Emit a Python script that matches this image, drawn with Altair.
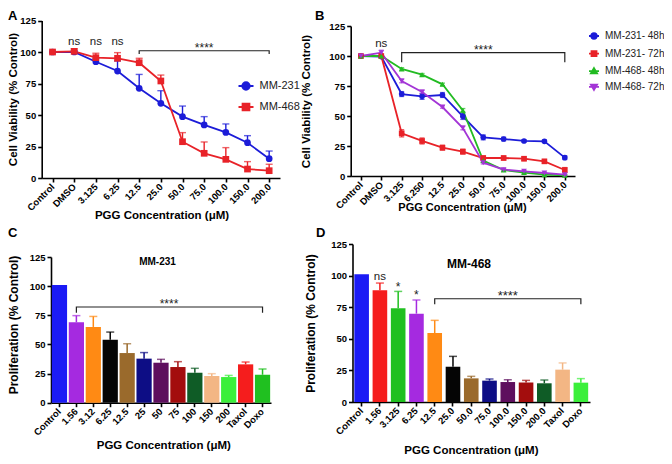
import altair as alt
import pandas as pd

FONT = "Liberation Sans"
W, H = 656, 448
Y_TICKS = [0, 25, 50, 75, 100, 125]
X_TITLE = "PGG Concentration (μM)"

# ---------------- Panel A ----------------
a_cats = ["Control", "DMSO", "3.125", "6.25", "12.5", "25.0", "50.0", "75.0", "100.0", "150.0", "200.0"]
a_series = ["MM-231", "MM-468"]
a_mm231 = [100, 100, 92.3, 84.9, 71.2, 59.3, 48.7, 42.1, 36.2, 28.0, 15.3]
a_mm231_err = [0, 1, 2.5, 8, 11, 10, 8.4, 6.6, 6.7, 5.6, 6.1]
a_mm468 = [100, 100.5, 95.5, 95, 91.5, 77, 28.8, 19.6, 14.8, 7.1, 5.8]
a_mm468_err = [0, 2, 3.5, 4.5, 3.5, 4.7, 7.2, 9, 9.3, 5.9, 5.1]
a_colors = ["#1c1cd8", "#e82228"]
a_ns_cats = ["DMSO", "3.125", "6.25"]
a_ns_y = [105.6, 105.6, 105.6]
a_br_x = ["12.5", "12.5", "200.0", "200.0"]
a_br_y = [98.4, 101, 101, 98.4]
a_star = ("75.0", 101)

# ---------------- Panel B ----------------
b_cats = ["Control", "DMSO", "3.125", "6.250", "12.5", "25.0", "50.0", "75.0", "100.0", "150.0", "200.0"]
b_series = ["MM-231- 48h", "MM-231- 72h", "MM-468- 48h", "MM-468- 72h"]
b_231_48 = [100, 99.5, 68.3, 66.4, 67.5, 49.7, 32.2, 30.8, 29.2, 28.9, 15.3]
b_231_48_err = [0, 0, 2, 2.5, 2, 2.5, 2, 1.5, 1, 1, 1.5]
b_231_72 = [100, 100, 35.6, 29.2, 23.6, 20.3, 15, 15, 14.4, 12.2, 5]
b_231_72_err = [0, 0, 3, 2.5, 2, 2, 1.5, 1.5, 1.5, 1.5, 2]
b_468_48 = [100, 100, 89.2, 84.4, 76.4, 54.7, 12.8, 5, 2.8, 1.1, 0.6]
b_468_48_err = [0, 1, 1, 1, 1, 1.5, 1.5, 1, 1, 0.5, 0.5]
b_468_72 = [100, 102.8, 79.2, 70, 57.5, 40, 11.1, 5.3, 3.9, 2.5, 1.1]
b_468_72_err = [0, 2, 1.5, 1.5, 1, 1.5, 1, 1, 0.5, 0.5, 0.5]
b_colors = ["#1c1cd8", "#e82228", "#22bb22", "#a335d6"]
b_ns_cats = ["DMSO"]
b_ns_y = [107.8]
b_br_x = ["3.125", "3.125", "200.0", "200.0"]
b_br_y = [94.8, 102.8, 102.8, 94.8]
b_star = ("50.0", 102.8)

# ---------------- Panel C ----------------
c_cats = ["Control", "1.56", "3.12", "6.25", "12.5", "25", "50", "75", "100", "150", "200", "Taxol", "Doxo"]
c_vals = [101, 69, 65, 54, 42.6, 37.8, 34.3, 30.6, 25.7, 22.9, 22, 32.9, 24]
c_err = [0, 5.7, 9, 6.6, 8, 5.2, 2.9, 4.6, 3.8, 2, 1.4, 2, 4.9]
c_colors = ["#1b1bf5", "#a52ae0", "#ff8a14", "#050505", "#9a6a2c", "#0d0d85", "#5e0f5e",
            "#a30d0d", "#0f5c26", "#f3b684", "#3bef3b", "#f51d1d", "#20c020"]
c_br_x = ["1.56", "1.56", "Doxo", "Doxo"]
c_br_y = [77.2, 82.1, 82.1, 77.2]
c_star = ("50", 82.1)

# ---------------- Panel D ----------------
d_cats = ["Control", "1.56", "3.125", "6.25", "12.5", "25.0", "50.0", "75.0", "100.0", "150.0", "200.0", "Taxol", "Doxo"]
d_vals = [101, 88.4, 74.1, 69.9, 54.6, 27.9, 18.7, 16.9, 15.8, 15.5, 14.8, 25.6, 15.3]
d_err = [0, 5.7, 13.4, 10.8, 10, 8.2, 1.6, 1.3, 1.8, 1.6, 2.6, 5.3, 3.2]
d_colors = ["#1b1bf5", "#f51d1d", "#20c020", "#a52ae0", "#ff8a14", "#050505", "#9a6a2c",
            "#0d0d85", "#5e0f5e", "#a30d0d", "#0f5c26", "#f3b684", "#3bef3b"]
d_ns_cats = ["1.56"]
d_ns_y = [96.5]
d_sig_cats = ["3.125", "6.25"]
d_sig_y = [87.8, 81.2]
d_br_x = ["12.5", "12.5", "Doxo", "Doxo"]
d_br_y = [77.3, 81.7, 81.7, 77.3]
d_star = ("100.0", 81.7)


def ax_common():
    return dict(labelFont=FONT, labelFontWeight="bold", labelColor="black",
                titleFont=FONT, titleFontWeight="bold", titleColor="black",
                domainColor="black", tickColor="black", domainWidth=1.6, tickWidth=1.6,
                tickSize=4, grid=False, labelOverlap=False)


def y_axis(off, title, tx, ty, tsize):
    return alt.Axis(orient="left", offset=off, values=Y_TICKS, title=title, titleX=tx, titleY=ty,
                    titleAngle=270, titleAlign="center", titleBaseline="middle", titleFontSize=tsize,
                    labelFontSize=9.5, labelPadding=2, **ax_common())


def x_axis(off, tx, ty, tsize):
    return alt.Axis(orient="bottom", offset=off, title=X_TITLE, titleX=tx, titleY=ty,
                    titleAlign="center", titleBaseline="alphabetic", titleFontSize=tsize,
                    labelAngle=315, labelAlign="right", labelBaseline="middle",
                    labelFontSize=9.5, labelPadding=3, **ax_common())


def annot_layers(xs, ys, br_x, br_y, star, star_dx, star_size, texts):
    out = []
    bdf = pd.DataFrame({"cat": br_x, "y": br_y, "k": list(range(len(br_x)))})
    out.append(alt.Chart(bdf).mark_line(color="#222", strokeWidth=1.2).encode(
        x=alt.X("cat:N", scale=xs, axis=None), y=alt.Y("y:Q", scale=ys, axis=None), order="k:Q"))
    sdf = pd.DataFrame({"cat": [star[0]], "y": [star[1]], "t": ["****"]})
    out.append(alt.Chart(sdf).mark_text(font=FONT, fontSize=star_size, color="#222", baseline="alphabetic",
                                        dx=star_dx, dy=1).encode(
        x=alt.X("cat:N", scale=xs, axis=None), y=alt.Y("y:Q", scale=ys, axis=None), text="t:N"))
    for cats, yv, txt, size in texts:
        tdf = pd.DataFrame({"cat": cats, "y": yv, "t": [txt] * len(cats)})
        out.append(alt.Chart(tdf).mark_text(font=FONT, fontSize=size, color="#222", baseline="alphabetic").encode(
            x=alt.X("cat:N", scale=xs, axis=None), y=alt.Y("y:Q", scale=ys, axis=None), text="t:N"))
    return out


def line_panel(cats, series, means, errs, colors, shapes, leg_paths, xr, yr, mk_size, sym_size,
               leg, xax, yax, two_sided, cap, annots):
    rows = []
    for s, mv, ev in zip(series, means, errs):
        for i, (c, m, e) in enumerate(zip(cats, mv, ev)):
            rows.append({"cat": c, "i": i, "series": s, "v": m, "e": e, "hi": m + e,
                         "lo": (m - e) if two_sided else m})
    df = pd.DataFrame(rows)
    xs = alt.Scale(type="point", domain=cats, range=xr, padding=0.5)
    ys = alt.Scale(domain=[0, 125], range=yr, nice=False, zero=True)
    X = alt.X("cat:N", scale=xs, axis=None)
    col = alt.Color("series:N", scale=alt.Scale(domain=series, range=colors), legend=None)
    base = alt.Chart(df)
    eb = base.transform_filter("datum.e > 0")
    layers = [
        eb.mark_rule(strokeWidth=1.4).encode(x=X, y=alt.Y("lo:Q", scale=ys, axis=None), y2="hi:Q", color=col),
        eb.mark_tick(thickness=1.4, size=cap).encode(x=X, y=alt.Y("hi:Q", scale=ys, axis=None), color=col),
    ]
    if two_sided:
        layers.append(eb.mark_tick(thickness=1.4, size=cap).encode(x=X, y=alt.Y("lo:Q", scale=ys, axis=None), color=col))
    layers.append(base.mark_line(strokeWidth=1.8).encode(
        x=alt.X("cat:N", scale=xs, axis=xax), y=alt.Y("v:Q", scale=ys, axis=yax), color=col, order="i:Q"))
    for s, sh in zip(series, shapes):
        layers.append(base.transform_filter(alt.datum.series == s).mark_point(
            shape=sh, filled=True, opacity=1, size=mk_size).encode(
            x=X, y=alt.Y("v:Q", scale=ys, axis=None), color=col))
    fs = alt.Scale(domain=series, range=colors)
    layers.append(base.transform_filter("false").mark_point(filled=True, opacity=1, size=sym_size, strokeWidth=1.8).encode(
        x=X, y=alt.Y("v:Q", scale=ys, axis=None),
        fill=alt.Fill("series:N", scale=fs, legend=leg),
        stroke=alt.Stroke("series:N", scale=fs, legend=leg),
        shape=alt.Shape("series:N", scale=alt.Scale(domain=series, range=leg_paths), legend=leg)))
    layers += annot_layers(xs, ys, *annots)
    return layers


def bar_panel(cats, vals, errs, colors, xr, yr, pi, po, xax, yax, cap, annots):
    df = pd.DataFrame({"cat": cats, "v": vals, "e": errs, "hi": [v + e for v, e in zip(vals, errs)]})
    xs = alt.Scale(type="band", domain=cats, range=xr, paddingInner=pi, paddingOuter=po)
    ys = alt.Scale(domain=[0, 125], range=yr, nice=False, zero=True)
    X = alt.X("cat:N", scale=xs, axis=None)
    col = alt.Color("cat:N", scale=alt.Scale(domain=cats, range=colors), legend=None)
    base = alt.Chart(df)
    eb = base.transform_filter("datum.e > 0")
    layers = [
        base.mark_bar().encode(x=alt.X("cat:N", scale=xs, axis=xax), y=alt.Y("v:Q", scale=ys, axis=yax), color=col),
        eb.mark_rule(strokeWidth=1.5).encode(x=X, y=alt.Y("v:Q", scale=ys, axis=None), y2="hi:Q", color=col),
        eb.mark_tick(thickness=1.5, size=cap).encode(x=X, y=alt.Y("hi:Q", scale=ys, axis=None), color=col),
    ]
    layers += annot_layers(xs, ys, *annots)
    return layers


def legend(x, y, size, fsize, rowpad, loff):
    return alt.Legend(orient="none", legendX=x, legendY=y, title=None, labelFont=FONT, labelFontSize=fsize,
                      labelColor="#222", symbolSize=size, symbolStrokeWidth=1.8, rowPadding=rowpad,
                      labelOffset=loff, padding=0, offset=0)


LINE = "M-1,0L1,0"
a_paths = [LINE + "M0.5,0A0.5,0.5,0,1,1,-0.5,0A0.5,0.5,0,1,1,0.5,0Z",
           LINE + "M-0.46,-0.46L0.46,-0.46L0.46,0.46L-0.46,0.46Z"]
b_paths = [LINE + "M0.55,0A0.55,0.55,0,1,1,-0.55,0A0.55,0.55,0,1,1,0.55,0Z",
           LINE + "M-0.5,-0.5L0.5,-0.5L0.5,0.5L-0.5,0.5Z",
           LINE + "M0,-0.62L0.62,0.45L-0.62,0.45Z",
           LINE + "M0,0.62L0.62,-0.45L-0.62,-0.45Z"]

panelA = line_panel(
    a_cats, a_series, [a_mm231, a_mm468], [a_mm231_err, a_mm468_err], a_colors, ["circle", "square"], a_paths,
    [33.7, 272], [170, 12.5], 45, 225, legend(229.5, 69.5, 225, 11, 5, 5),
    x_axis(-278, 153.5, 40, 11.5), y_axis(-33.7, "Cell Viability (% Control)", -28.7, 91, 11.5),
    False, 7,
    (a_br_x, a_br_y, a_star, 0, 12, [(a_ns_cats, a_ns_y, "ns", 11.5)]))

panelB = line_panel(
    b_cats, b_series, [b_231_48, b_231_72, b_468_48, b_468_72],
    [b_231_48_err, b_231_72_err, b_468_48_err, b_468_72_err], b_colors,
    ["circle", "square", "triangle-up", "triangle-down"], b_paths,
    [342.7, 567], [168, 18], 32, 100, legend(580, 22, 100, 10, 3.6, 5),
    x_axis(-280, 454, 34, 11), y_axis(-342.7, "Cell Viability (% Control)", -44.7, 93, 11.5),
    True, 5,
    (b_br_x, b_br_y, b_star, 0, 12, [(b_ns_cats, b_ns_y, "ns", 11.5)]))

panelC = bar_panel(
    c_cats, c_vals, c_err, c_colors, [43, 263], [394.7, 249], 0.1, 0.05,
    x_axis(-53.3, 155.3, 45.8, 11.5), y_axis(-43, "Proliferation (% Control)", -38, 316.5, 12), 8,
    (c_br_x, c_br_y, c_star, 8, 12, []))

panelD = bar_panel(
    d_cats, d_vals, d_err, d_colors, [344.5, 582], [394, 236], 0.2, 0.1,
    x_axis(-54, 462.9, 51, 11.5), y_axis(-344.5, "Proliferation (% Control)", -42.5, 315, 12), 8,
    (d_br_x, d_br_y, d_star, 0, 13, [(d_ns_cats, d_ns_y, "ns", 11.5), (d_sig_cats, d_sig_y, "*", 12)]))


def label(txt, x, y, size, align="left"):
    return alt.Chart(pd.DataFrame({"t": [txt]})).mark_text(
        text=txt, font=FONT, fontSize=size, fontWeight="bold", color="black",
        align=align, baseline="alphabetic").encode(x=alt.value(x), y=alt.value(y))


decor = [
    label("A", 0, 12, 13), label("B", 307, 12, 13), label("C", 0, 229, 13), label("D", 308, 229, 13),
    label("MM-231", 149.5, 257.3, 10, "center"), label("MM-468", 461, 260, 12, "center"),
]

chart = alt.layer(*panelA, *panelB, *panelC, *panelD, *decor).resolve_scale(
    x="independent", y="independent", color="independent", fill="independent",
    stroke="independent", shape="independent"
).properties(
    width=W, height=H, autosize=alt.AutoSizeParams(type="none"), padding=0
).configure(font=FONT).configure_view(strokeWidth=0)

chart.save("out.html", embed_options={"renderer": "svg", "actions": False})
